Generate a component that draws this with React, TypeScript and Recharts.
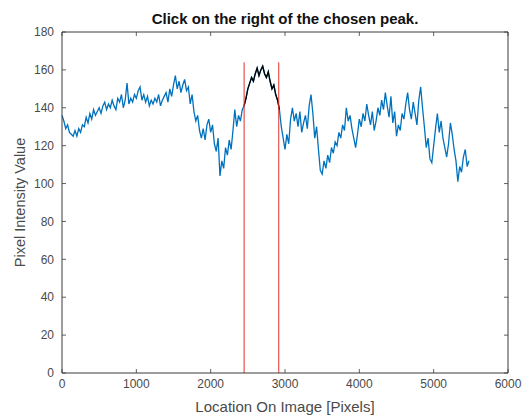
import React from 'react';
import { LineChart, Line, XAxis, YAxis, ReferenceLine } from 'recharts';

// Samples along the image row, one every 25 pixels (0 .. 5475)
const sampleStep = 25;
const intensity = [
  136, 133, 129, 131, 127, 126, 125, 128, 125, 129, 127, 131, 130, 135, 132, 137, 134, 139, 136, 138,
  140, 137, 141, 143, 139, 142, 140, 144, 141, 139, 145, 143, 147, 140, 144, 153, 142, 145, 143, 147,
  145, 149, 151, 144, 147, 143, 146, 141, 144, 142, 145, 143, 147, 141, 144, 146, 148, 143, 150, 146,
  152, 157, 150, 154, 148, 152, 155, 149, 151, 142, 147, 138, 133, 136, 128, 124, 129, 123, 131, 134,
  127, 131, 121, 117, 124, 104, 112, 108, 119, 115, 123, 118, 128, 139, 130, 136, 133, 139, 141, 145,
  150, 153, 156, 154, 158, 161, 157, 160, 162, 158, 156, 159, 154, 150, 152, 147, 144, 139, 130, 124,
  118, 126, 121, 134, 140, 133, 137, 130, 138, 127, 132, 136, 129, 141, 147, 137, 124, 130, 118, 107,
  105, 112, 108, 115, 111, 119, 116, 122, 120, 127, 124, 131, 128, 140, 133, 136, 129, 124, 119, 126,
  134, 130, 137, 133, 142, 136, 131, 138, 128, 133, 140, 136, 144, 139, 148, 141, 135, 146, 132, 138,
  125, 131, 128, 137, 134, 142, 148, 139, 134, 143, 137, 131, 144, 151, 140, 130, 119, 124, 113, 111,
  120, 129, 137, 127, 133, 124, 119, 114, 121, 132, 126, 118, 112, 101, 109, 106, 114, 118, 109, 112,
];

// Chosen peak region (drawn black) and the two red bounding lines
const peakRange = [2450, 2925];
const boundaryLines = [2450, 2916];
const boundaryTop = 164;

const xTicks = [0, 1000, 2000, 3000, 4000, 5000, 6000];
const yTicks = [0, 20, 40, 60, 80, 100, 120, 140, 160, 180];
const xMax = 6000;
const yMax = 180;

const titleText = 'Click on the right of the chosen peak.';
const xLabelText = 'Location On Image [Pixels]';
const yLabelText = 'Pixel Intensity Value';

const data = intensity.map((v, i) => {
  const x = i * sampleStep;
  return {
    x,
    profile: v,
    peak: x >= peakRange[0] && x <= peakRange[1] ? v : null,
  };
});

const axisColor = '#3a3a3a';
const textColor = '#4a4a4a';
const font = 'Liberation Sans, Arial, Helvetica, sans-serif';

// tick length expressed in data units (≈4 px)
const xTickLen = 54;
const yTickLen = 2.1;

const BottomTick = (p: any) => (
  <g>
    <line x1={p.x} x2={p.x} y1={p.y} y2={p.y - 4} stroke={axisColor} strokeWidth={0.8} />
    <text x={p.x} y={p.y + 14.5} textAnchor="middle" fontSize={12} fill={textColor} fontFamily={font}>
      {p.payload.value}
    </text>
  </g>
);

const LeftTick = (p: any) => (
  <g>
    <line x1={p.x} x2={p.x + 4} y1={p.y} y2={p.y} stroke={axisColor} strokeWidth={0.8} />
    <text x={p.x - 8} y={p.y + 4.2} textAnchor="end" fontSize={12} fill={textColor} fontFamily={font}>
      {p.payload.value}
    </text>
  </g>
);

export default function App() {
  return (
    <div style={{ position: 'absolute', left: 0, top: 0, width: 525, height: 419, background: '#fff' }}>
      <div
        style={{
          position: 'absolute',
          left: 62,
          width: 446,
          top: 11,
          textAlign: 'center',
          fontFamily: font,
          fontSize: 15,
          fontWeight: 'bold',
          color: '#111',
          lineHeight: '15px',
          whiteSpace: 'nowrap',
        }}
      >
        {titleText}
      </div>
      <LineChart
        width={525}
        height={419}
        data={data}
        margin={{ top: 32, right: 17, bottom: 0, left: 0 }}
      >
        <XAxis
          dataKey="x"
          type="number"
          domain={[0, xMax]}
          ticks={xTicks}
          height={46}
          stroke={axisColor}
          tickSize={0}
          tickMargin={0}
          tick={<BottomTick />}
          label={{
            content: (props: any) => {
              const vb = props.viewBox;
              return (
                <text x={vb.x + vb.width / 2} y={vb.y + 39} textAnchor="middle" fontSize={15} fill={textColor} fontFamily={font}>
                  {xLabelText}
                </text>
              );
            },
          }}
        />
        <YAxis
          type="number"
          domain={[0, yMax]}
          ticks={yTicks}
          width={62}
          stroke={axisColor}
          tickSize={0}
          tickMargin={0}
          tick={<LeftTick />}
          label={{
            content: (props: any) => {
              const vb = props.viewBox;
              const cy = vb.y + vb.height / 2;
              return (
                <text x={25} y={cy} transform={`rotate(-90, 25, ${cy})`} textAnchor="middle" fontSize={14.5} fill={textColor} fontFamily={font}>
                  {yLabelText}
                </text>
              );
            },
          }}
        />
        {/* box: top and right edges */}
        <ReferenceLine y={yMax} stroke={axisColor} strokeWidth={1} />
        <ReferenceLine x={xMax} stroke={axisColor} strokeWidth={1} />
        {/* inward ticks on the top and right edges */}
        {xTicks.map((t) => (
          <ReferenceLine
            key={'tt' + t}
            segment={[{ x: t, y: yMax }, { x: t, y: yMax - yTickLen }]}
            stroke={axisColor}
            strokeWidth={0.8}
          />
        ))}
        {yTicks.map((t) => (
          <ReferenceLine
            key={'rt' + t}
            segment={[{ x: xMax, y: t }, { x: xMax - xTickLen, y: t }]}
            stroke={axisColor}
            strokeWidth={0.8}
          />
        ))}
        <Line
          dataKey="profile"
          stroke="#0072BD"
          strokeWidth={1.3}
          dot={false}
          isAnimationActive={false}
        />
        <Line
          dataKey="peak"
          stroke="#000000"
          strokeWidth={1.3}
          dot={false}
          connectNulls={false}
          isAnimationActive={false}
        />
        {boundaryLines.map((bx) => (
          <ReferenceLine
            key={bx}
            segment={[{ x: bx, y: 0 }, { x: bx, y: boundaryTop }]}
            stroke="#e0302a"
            strokeWidth={1}
          />
        ))}
      </LineChart>
    </div>
  );
}
